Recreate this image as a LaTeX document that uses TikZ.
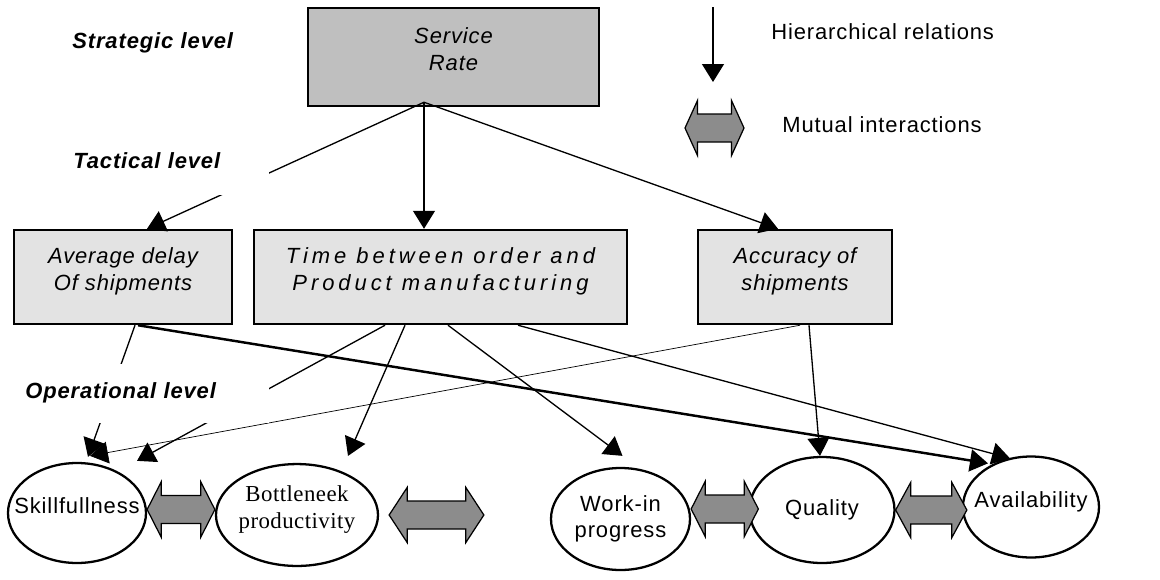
\documentclass[tikz,border=0pt]{standalone}
\usepackage{fontspec}
\setmainfont{Liberation Sans}[LetterSpace=4]
\newfontfamily\timesfont{Liberation Serif}[LetterSpace=2]
\usepackage{tikz}
\usetikzlibrary{calc}
\usetikzlibrary{arrows.meta,shapes.geometric}

\newcommand{\dfont}{\fontsize{12.5}{15}\selectfont}
% block arrow between two points: from, to, head length
\newcommand{\mutualarrow}[3]{%
  \draw[mutual] let \p1=(#1), \p2=(#2) in
    (\x1,\y1) -- ++(#3,5.5mm) -- ++(0,-2.7mm) -- (\x2-#3,\y1+2.8mm) -- ++(0,2.7mm)
    -- (\x2,\y1) -- (\x2-#3,\y1-5.5mm) -- ++(0,2.7mm) -- (\x1+#3,\y1-2.8mm)
    -- ++(0,-2.7mm) -- cycle;}

\begin{document}
\begin{tikzpicture}[x=0.2mm,y=-0.2mm,
  srbox/.style={draw,line width=1.4pt,fill=black!25,minimum width=58.2mm,minimum height=19.6mm,
    font=\dfont\itshape,align=center,text height=27pt,text depth=12pt},
  tacbox/.style={draw,line width=1.4pt,fill=black!11,minimum height=18.8mm,
    font=\dfont\itshape,align=center,text height=27pt,text depth=12pt},
  state/.style={ellipse,draw,line width=1.3pt,fill=white,inner xsep=-12pt,inner ysep=0pt,
    font=\dfont,align=center},
  level/.style={anchor=west,fill=white,inner xsep=0pt,align=left,font=\dfont\bfseries\itshape},
  hier/.style={-{Triangle[length=3.6mm,width=4.4mm]},line width=0.75pt},
  mutual/.style={draw,line width=0.7pt,fill=black!45,line join=miter},
  legend/.style={anchor=west,inner xsep=0pt,font=\dfont}]
\useasboundingbox (0,0) rectangle (1160,579);

% Boxes
\node[srbox] (sr) at (453.5,57) {Service\\Rate};
\node[tacbox,minimum width=43.6mm] (avg) at (123,277) {Average delay\\Of shipments};
\node[tacbox,minimum width=74.6mm,font=\dfont\itshape\addfontfeatures{LetterSpace=18}] (time) at (440.5,277)
  {Time between order and\\Product manufacturing};
\node[tacbox,minimum width=38.8mm] (acc) at (795,277) {Accuracy of\\shipments};

% Ellipses
\node[state,minimum width=27.6mm,minimum height=20mm,text height=8pt,text depth=8pt] (skill) at (77,513) {Skillfullness};
\node[state,minimum width=32.4mm,minimum height=20.2mm,font=\timesfont\fontsize{13}{15.4}\selectfont,
  text height=28pt,text depth=13pt] (bott) at (297,515) {Bottleneek\\productivity};
\node[state,minimum width=27.8mm,minimum height=20.4mm] (wip) at (620.5,519) {Work-in\\progress};
\node[state,minimum width=29mm,minimum height=21.2mm] (qual) at (822,510) {Quality};
\node[state,minimum width=27.2mm,minimum height=20.2mm,text height=8pt,text depth=8pt] (avail) at (1031,507) {Availability};

% Hierarchical relations
\coordinate (srfoot) at ([xshift=-5.9mm,yshift=1mm]sr.south);
\draw[hier] (srfoot) -- ([xshift=4.8mm]avg.north);
\draw[hier] (srfoot) -- (srfoot |- time.north);
\draw[hier] (srfoot) -- ([xshift=-3.4mm]acc.north);

\draw[hier] ([xshift=2.4mm]avg.south) -- ([xshift=2.2mm,yshift=1mm]skill.north);
\draw[hier,line width=1.4pt] ([xshift=3mm]avg.south) -- ([xshift=-8.6mm,yshift=-1.6mm]avail.north);
\draw[hier] ([xshift=-11.1mm]time.south) -- ([xshift=12mm,yshift=0.2mm]skill.north);
\draw[hier] ([xshift=-7.1mm]time.south) -- ([xshift=10.2mm,yshift=1.4mm]bott.north);
\draw[hier] ([xshift=1.5mm]time.south) -- ([xshift=0.4mm,yshift=2.2mm]wip.north);
\draw[hier] ([xshift=15.5mm]time.south) -- ([xshift=-4.2mm,yshift=-0.6mm]avail.north);
\draw[hier,line width=0.4pt] ([xshift=1mm]acc.south) -- ([xshift=2.6mm,yshift=1.2mm]skill.north);
\draw[hier] ([xshift=2.8mm]acc.south) -- ([xshift=-0.4mm]qual.north);

% Mutual interactions
\mutualarrow{[yshift=0.7mm]skill.east}{bott.west}{2.8mm}
\mutualarrow{[xshift=2mm]bott.east}{[xshift=-13.2mm]wip.west}{3.6mm}
\mutualarrow{[yshift=2mm]wip.east}{[xshift=2mm]qual.west}{2.8mm}
\mutualarrow{qual.east}{[xshift=1mm]avail.west}{3mm}

% Levels
\node[level,text width=40mm,minimum height=13.8mm] (strategic) at (72,43) {Strategic level};
\node[level,text width=39.2mm,minimum height=13.8mm] (tactical) at (73,160.5) {Tactical level};
\node[level,text width=48.8mm,minimum height=11.8mm] (operational) at (25,393) {Operational level};

% Legend
\coordinate (hiertop) at (713,7);
\coordinate (hierbot) at (713,82);
\draw[hier] (hiertop) -- (hierbot);
\node[legend] (hiertxt) at (771,32) {Hierarchical relations};
\coordinate (mutleft) at (685,128);
\coordinate (mutright) at (744,128);
\mutualarrow{mutleft}{mutright}{2.5mm}
\node[legend] (muttxt) at (782,125) {Mutual interactions};
\end{tikzpicture}
\end{document}
